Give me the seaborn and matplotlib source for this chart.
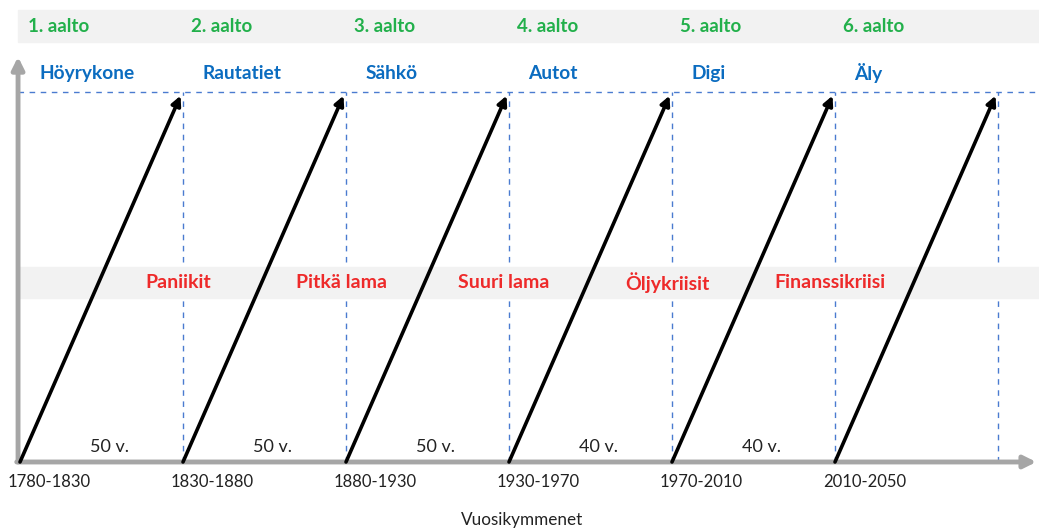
import numpy as np
import pandas as pd
import matplotlib
matplotlib.use("Agg")
import matplotlib.pyplot as plt
import seaborn as sns

# Kondratjevin aallot
waves = ["1. aalto", "2. aalto", "3. aalto", "4. aalto", "5. aalto", "6. aalto"]
technologies = ["Höyrykone", "Rautatiet", "Sähkö", "Autot", "Digi", "Äly"]
periods = ["1780-1830", "1830-1880", "1880-1930", "1930-1970", "1970-2010", "2010-2050"]
crises = ["Paniikit", "Pitkä lama", "Suuri lama", "Öljykriisit", "Finanssikriisi"]
durations = ["50 v.", "50 v.", "50 v.", "40 v.", "40 v."]

sns.set_theme(style="white")
plt.rcParams["font.family"] = ["Lato", "DejaVu Sans"]

GREEN = "#22b04b"
BLUE = "#0b6cc0"
RED = "#ee2a2a"
GREY = "#a6a6a6"
BAND = "#f2f2f2"
DASH = "#4a7bd0"

fig = plt.figure(figsize=(10.39, 5.30), dpi=100)
ax = fig.add_axes([0, 0, 1, 1])
ax.set_xlim(-0.1227, 6.2515)
ax.set_ylim(-0.1838, 1.2486)
ax.axis("off")

n = len(waves)
idx = np.arange(n)

# grey bands (above the dashed guides, below the arrows)
ax.axhspan(1.135, 1.222, xmin=0.017, xmax=1, color=BAND, zorder=2)
ax.axhspan(0.443, 0.527, xmin=0.017, xmax=1, color=BAND, zorder=2)

# dashed guides
guides = pd.DataFrame({
    "x": np.repeat(idx + 1, 2),
    "y": np.tile([0, 1.0], n),
    "wave": np.repeat(idx, 2),
})
sns.lineplot(data=guides, x="x", y="y", units="wave", estimator=None,
             color=DASH, lw=1.0, ax=ax, zorder=1, dashes=False)
for line in ax.lines:
    line.set_linestyle((0, (4, 4)))
ax.plot([-0.01, 6.26], [1.0, 1.0], color=DASH, lw=1.0, ls=(0, (4, 4)), zorder=1)

# axes arrows
ax.annotate("", xy=(-0.012, 1.095), xytext=(-0.012, 0),
            arrowprops=dict(arrowstyle="-|>", color=GREY, lw=3.5,
                            mutation_scale=18, shrinkA=0, shrinkB=0), zorder=3)
ax.annotate("", xy=(6.235, 0), xytext=(-0.02, 0),
            arrowprops=dict(arrowstyle="-|>", color=GREY, lw=3.5,
                            mutation_scale=18, shrinkA=0, shrinkB=0), zorder=3)

# wave arrows
for i in idx:
    ax.annotate("", xy=(i + 0.985, 0.99), xytext=(i, 0),
                arrowprops=dict(arrowstyle="-|>", color="black", lw=2.6,
                                mutation_scale=14, shrinkA=0, shrinkB=0), zorder=4)

# labels
for i in idx:
    ax.text(i + 0.05, 1.178, waves[i], color=GREEN, fontsize=13.5,
            fontweight="bold", ha="left", va="center", zorder=5)
    ax.text(i + 0.12, 1.051, technologies[i], color=BLUE, fontsize=13.8,
            fontweight="bold", ha="left", va="center", zorder=5)
    ax.text(i - 0.075, -0.054, periods[i], color="#222222", fontsize=12,
            ha="left", va="center", zorder=5)

for i, (c, d) in enumerate(zip(crises, durations)):
    ax.text(i + 0.97, 0.484, c, color=RED, fontsize=14, fontweight="bold",
            ha="center", va="center", zorder=5)
    ax.text(i + 0.55, 0.04, d, color="#222222", fontsize=13,
            ha="center", va="center", zorder=5)

ax.text(3.08, -0.157, "Vuosikymmenet", color="#222222", fontsize=12.3,
        ha="center", va="center")

fig.savefig("out.png", dpi=100)
